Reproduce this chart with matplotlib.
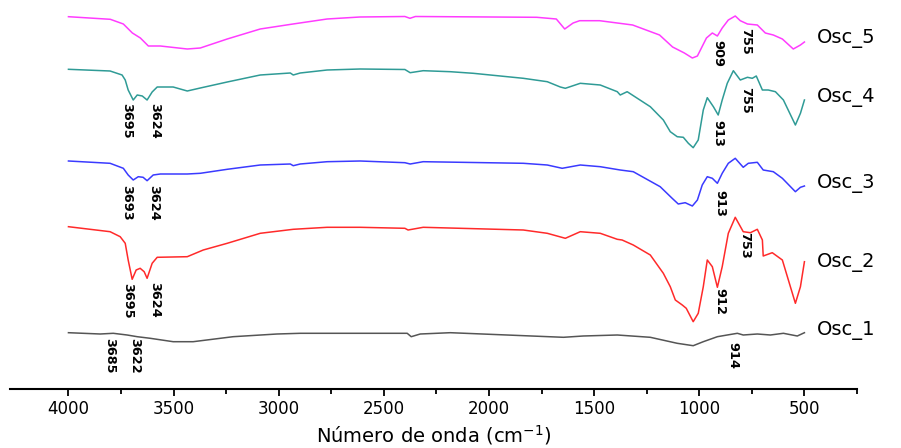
import matplotlib
matplotlib.use("Agg")
import matplotlib.pyplot as plt

# FTIR spectra, stacked (transmittance in arbitrary units, offsets included)
wn_1 = [4000, 3849, 3787, 3721, 3673, 3611, 3502, 3407, 3217, 3008, 2898, 2741,
        2389, 2370, 2327, 2184, 1646, 1552, 1390, 1233, 1105, 1029, 981, 914,
        867, 819, 791, 724, 662, 600, 534, 500]
t_1 = [56.3, 55, 55.7, 54, 52.3, 50.7, 47.3, 47.3, 52.3, 55, 55.7, 55.7,
       55.7, 52.3, 55, 56.3, 51.7, 53, 54, 51.7, 45.7, 43.3, 47.3, 52.3,
       54, 55.7, 54, 55, 54, 55.7, 53, 56.3]

wn_2 = [4000, 3802, 3754, 3730, 3716, 3697, 3678, 3659, 3640, 3626, 3602, 3578,
        3435, 3359, 3245, 3088, 2931, 2770, 2613, 2400, 2385, 2313, 1837, 1723,
        1637, 1566, 1471, 1390, 1367, 1314, 1233, 1171, 1138, 1114, 1081, 1062,
        1029, 1005, 981, 962, 938, 914, 891, 862, 829, 791, 757, 724, 700,
        696, 653, 605, 543, 519, 500]
t_2 = [162.3, 157.3, 152.3, 145.7, 129, 109.7, 119, 120.7, 117.3, 110.7, 125.7, 131.7,
       132.3, 139, 145.7, 155.7, 159.7, 161.7, 161.7, 160.7, 159, 161.7, 159, 155.7,
       150.7, 157.3, 155.7, 149.7, 149, 144, 134, 115.7, 102.3, 89, 84, 80.7,
       67.3, 75.7, 102.3, 129, 122.3, 101.7, 122.3, 155.7, 171.7, 157.3, 156.3, 159.7, 149,
       133, 136.3, 129, 85.7, 102.3, 127.3]

wn_3 = [4000, 3802, 3739, 3716, 3692, 3668, 3645, 3626, 3597, 3563, 3435, 3373,
        3245, 3088, 2945, 2931, 2898, 2770, 2613, 2400, 2375, 2313, 1837, 1723,
        1652, 1566, 1471, 1376, 1314, 1186, 1129, 1100, 1067, 1033, 1009, 986,
        962, 938, 914, 891, 862, 829, 791, 767, 724, 696, 648, 605, 543,
        519, 500]
t_3 = [228, 225.7, 220.7, 214, 209, 212.3, 211.7, 208.3, 214, 215, 215, 215.7,
       219.7, 224, 225, 223.3, 225, 227.3, 228, 226.3, 225, 227.3, 225.7, 224,
       220.7, 224, 222.3, 219, 217.3, 202.3, 190.7, 185, 186.3, 183, 189, 204,
       212.3, 210.7, 205.7, 215.7, 225.7, 230.7, 221.7, 225.7, 226.7, 219, 217.3, 210.7, 197.3,
       201.7, 203]

wn_4 = [4000, 3802, 3745, 3730, 3716, 3692, 3673, 3649, 3626, 3602, 3578, 3502,
        3435, 3373, 3245, 3088, 2945, 2931, 2898, 2770, 2613, 2400, 2375, 2313,
        2184, 2075, 1837, 1723, 1661, 1637, 1566, 1471, 1390, 1376, 1343, 1233,
        1171, 1138, 1105, 1076, 1052, 1029, 1005, 981, 962, 933, 910, 891,
        867, 838, 805, 771, 748, 729, 700, 672, 638, 600, 543, 519, 500]
t_4 = [319.7, 318, 314, 309, 299, 289, 294, 293, 289, 297, 302, 302,
       298, 301, 307, 314, 316, 314, 316, 319, 320, 319.5, 316.3, 318.3,
       317.3, 315.7, 310.7, 307.3, 302, 300.7, 305.7, 304, 297.3, 294, 297.3, 282.3,
       269, 257.3, 252.3, 251.7, 245.7, 241.3, 249, 279, 291.3, 282.3, 274, 289,
       305.7, 318.3, 309, 311.7, 310.7, 313, 299, 299, 297.3, 289, 264, 275.7, 289]

wn_5 = [4000, 3801, 3739, 3696, 3658, 3620, 3563, 3435, 3373, 3245, 3088, 2932,
        2770, 2614, 2400, 2376, 2350, 1773, 1680, 1640, 1600, 1569, 1474, 1379,
        1317, 1189, 1127, 1071, 1033, 1009, 966, 938, 914, 891, 862, 829,
        805, 771, 724, 686, 648, 605, 553, 519, 500]
t_5 = [372.3, 369.7, 365, 356, 351, 343, 343, 340, 341, 350, 360, 365,
       370, 372, 372.5, 370.7, 372.5, 371.7, 370, 360, 366, 368.3, 368.3, 365.7,
       364, 354, 342, 336, 331, 333, 351, 356, 353, 361, 369, 373,
       368.3, 365, 364, 356, 354, 350, 340, 344, 347]

series_names = ["Osc_1", "Osc_2", "Osc_3", "Osc_4", "Osc_5"]
series_colors = ["#555555", "#ff2a2a", "#3a3aff", "#2f9b96", "#ff3cff"]

# peak labels: (text, wavenumber, y of top of text)
peak_labels = [
    ("3695", 3721, 285.7), ("3624", 3592, 286),
    ("3693", 3721, 204), ("3624", 3597, 204),
    ("3695", 3716, 106.3), ("3624", 3592, 107),
    ("3685", 3802, 51), ("3622", 3683, 51),
    ("909", 910, 349), ("755", 781, 361),
    ("913", 910, 269), ("755", 781, 302),
    ("913", 900, 199),
    ("912", 900, 101), ("753", 786, 157),
    ("914", 838, 47),
]
# series name y (centre), in the same units
name_y = [59, 127, 206, 292, 351]

xticks = [4000, 3500, 3000, 2500, 2000, 1500, 1000, 500]
xminor = [3750, 3250, 2750, 2250, 1750, 1250, 750, 250]

fig = plt.figure(figsize=(9.01, 4.48), dpi=100)
ax = fig.add_axes([10 / 901, 59 / 448, 847 / 901, 389 / 448])

spectra = [(wn_1, t_1), (wn_2, t_2), (wn_3, t_3), (wn_4, t_4), (wn_5, t_5)]
for (wn, t), name, color in zip(spectra, series_names, series_colors):
    ax.plot(wn, t, color=color, lw=1.1)

for i, name in enumerate(series_names):
    ax.text(440, name_y[i], name, fontsize=14, ha="left", va="center",
            family="DejaVu Sans")

for text, x, y in peak_labels:
    ax.text(x, y, text, rotation=270, ha="center", va="top", fontsize=9.3,
            fontweight="bold", family="DejaVu Sans")

ax.set_xlim(4278, 250)
ax.set_ylim(0, 389)
ax.set_xticks(xticks)
ax.set_xticks(xminor, minor=True)
ax.set_yticks([])
for side in ["left", "right", "top"]:
    ax.spines[side].set_visible(False)
ax.spines["bottom"].set_linewidth(1.5)
ax.tick_params(axis="x", which="major", length=5, width=1.3, labelsize=12, pad=3)
ax.tick_params(axis="x", which="minor", length=3.5, width=1.3)
ax.patch.set_alpha(0)
ax.set_xlabel("Número de onda (cm$^{-1}$)", fontsize=14, labelpad=3.5)

fig.savefig("out.png", dpi=100)
